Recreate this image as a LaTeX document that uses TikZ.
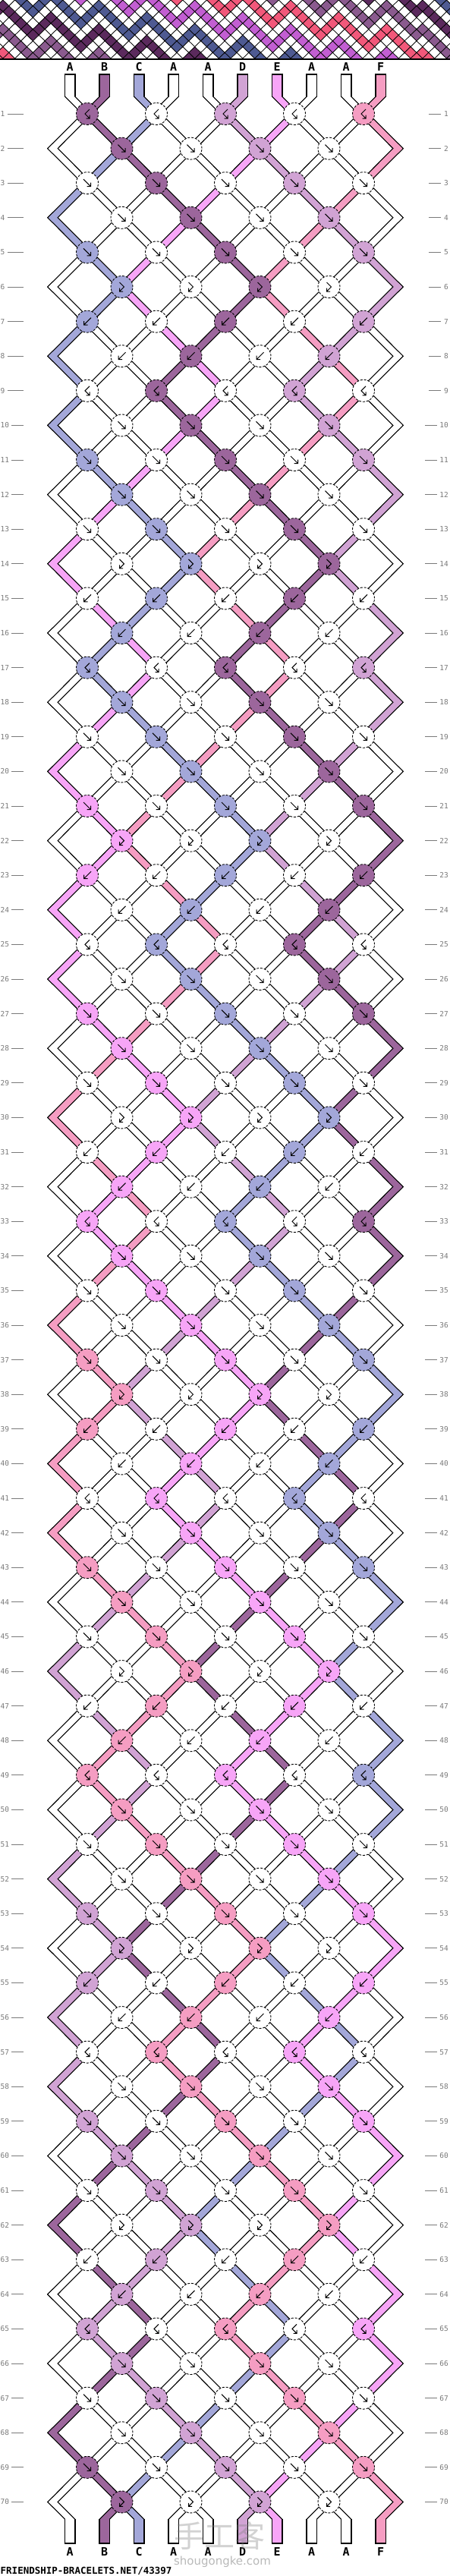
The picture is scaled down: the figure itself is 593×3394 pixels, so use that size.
\documentclass[tikz,border=0pt]{standalone}
\usepackage{fontspec}
\setmainfont{DejaVu Sans}
\newfontfamily\monof{DejaVu Sans Mono}
\newfontfamily\cjkf{Noto Sans CJK SC}
\definecolor{cA}{HTML}{FFFFFF}
\definecolor{cB}{HTML}{9C669C}
\definecolor{cC}{HTML}{A3A7D9}
\definecolor{cD}{HTML}{D1A3D4}
\definecolor{cE}{HTML}{F7A5F7}
\definecolor{cF}{HTML}{F59DC2}
\definecolor{vA}{HTML}{FFFFFF}
\definecolor{vB}{HTML}{5B2A5D}
\definecolor{vC}{HTML}{4E5A92}
\definecolor{vD}{HTML}{8A5A8E}
\definecolor{vE}{HTML}{C25ED2}
\definecolor{vF}{HTML}{F2587A}
\definecolor{lab}{HTML}{7A7A7A}
\tikzset{
 outl/.style={line width=10.5pt, line cap=rect, draw=black},
 fil/.style={line width=8pt, line cap=rect},
 tubeline/.style={line width=1.2pt, draw=black},
 knot/.style={circle, minimum size=29pt, inner sep=0pt, draw=black, line width=0.9pt, dash pattern=on 3pt off 1.8pt},
 sym/.style={line width=1pt, draw=black, line cap=butt},
 rowlab/.style={font=\monof\fontsize{9.5}{10}\selectfont, text=lab, inner sep=0pt},
 dashl/.style={line width=0.9pt, draw=lab},
 strlab/.style={font=\monof\bfseries\fontsize{15}{15}\selectfont, inner sep=0pt},
 pvd/.style={draw=black, line width=0.7pt},
 symF/.pic={\draw[sym] (-5,-5)--(4.5,4.5) (-0.5,4.5)--(4.5,4.5)--(4.5,-0.5);},
 symB/.pic={\draw[sym] (5,-5)--(-4.5,4.5) (0.5,4.5)--(-4.5,4.5)--(-4.5,-0.5);},
 symFB/.pic={\draw[sym] (-3,-6)--(3,0)--(-3,6) (1.5,6)--(-3,6)--(-3,1.5);},
 symBF/.pic={\draw[sym] (3,-6)--(-3,0)--(3,6) (-1.5,6)--(3,6)--(3,1.5);},
}
\def\setst#1#2{\expandafter\xdef\csname st#1\endcsname{#2}}
\begin{document}
\begin{tikzpicture}[x=1pt,y=-1pt]
\useasboundingbox (0,0) rectangle (593,3394);
\fill[white] (0,0) rectangle (593,3394);
% ---------- simulation of the knotting ----------
\foreach \ps/\lt in {1/A,2/B,3/C,4/A,5/A,6/D,7/E,8/A,9/A,10/F}{%
  \setst{\ps}{\lt}\expandafter\xdef\csname sc0-\ps\endcsname{\lt}}
\foreach \rw in {1,...,70}{%
  \pgfmathtruncatemacro\mm{mod(\rw-1,8)}%
  \ifnum\mm=0 \def\kt{3}\else\ifnum\mm<5 \def\kt{0}\else\ifnum\mm=5 \def\kt{2}\else\def\kt{1}\fi\fi\fi
  \expandafter\xdef\csname kt\rw\endcsname{\kt}%
  \ifodd\rw \def\plist{1,3,5,7,9}\else\def\plist{2,4,6,8}\fi
  \foreach \ps in \plist {%
    \pgfmathtruncatemacro\qs{\ps+1}%
    \edef\Lc{\csname st\ps\endcsname}%
    \edef\Rc{\csname st\qs\endcsname}%
    \ifnum\kt=0 \edef\Dc{\Lc}\else\ifnum\kt=2 \edef\Dc{\Lc}\else\edef\Dc{\Rc}\fi\fi
    \expandafter\xdef\csname kc\rw-\ps\endcsname{\Dc}%
    \ifnum\kt<2 \setst{\ps}{\Rc}\setst{\qs}{\Lc}\fi
  }%
  \foreach \ps in {1,...,10}{\expandafter\xdef\csname sc\rw-\ps\endcsname{\csname st\ps\endcsname}}%
}
% ---------- preview strip ----------
\begin{scope}
\clip (0,0) rectangle (593,77);
\foreach \cc in {-1,...,76}{%
  \pgfmathtruncatemacro\rw{mod(\cc-1+140,70)+1}%
  \pgfmathtruncatemacro\rp{\rw-1}%
  \pgfmathsetmacro\cx{7.9*(\cc-1)+3.95}%
  \ifodd\rw \def\plist{1,3,5,7,9}\else\def\plist{0,2,4,6,8,10}\fi
  \foreach \ps in \plist{%
    \ifnum\ps=0 \edef\col{v\csname sc\rp-1\endcsname}\else\ifnum\ps=10 \edef\col{v\csname sc\rp-10\endcsname}\else
      \edef\col{v\csname kc\rw-\ps\endcsname}\fi\fi
    \pgfmathsetmacro\cy{7.7*\ps}%
    \filldraw[pvd, fill=\col] ({\cx-7.9},\cy) -- (\cx,{\cy-7.7}) -- ({\cx+7.9},\cy) -- (\cx,{\cy+7.7}) -- cycle;
  }%
}
\end{scope}
\draw[line width=2pt] (0,78) -- (593,78);
% ---------- coordinates ----------
\foreach \rw in {1,...,70}{%
  \pgfmathsetmacro\yy{150+45.6*(\rw-1)}%
  \foreach \ps in {1,...,10}{%
    \pgfmathsetmacro\xx{92.25+45.5*(\ps-1)+22.75*(1-2*mod(\ps+\rw,2))}%
    \coordinate (P\rw-\ps) at (\xx,\yy);
  }%
}
\foreach \ps in {1,...,10}{%
  \pgfmathsetmacro\xx{92.25+45.5*(\ps-1)}%
  \coordinate (T\ps) at (\xx,127.25);
  \coordinate (U\ps) at (\xx,98);
  \coordinate (Bt\ps) at (\xx,3319.15);
  \coordinate (Be\ps) at (\xx,3351);
}
% ---------- string outlines ----------
\foreach \rw in {1,...,69}{%
  \pgfmathtruncatemacro\rn{\rw+1}%
  \foreach \ps in {1,...,10}{\draw[outl] (P\rw-\ps) -- (P\rn-\ps);}%
}
\foreach \ps in {1,...,10}{\draw[outl] (T\ps) -- (P1-\ps); \draw[outl] (P70-\ps) -- (Bt\ps);}
% ---------- string fills ----------
\foreach \rw in {1,...,69}{%
  \pgfmathtruncatemacro\rn{\rw+1}%
  \foreach \ps in {1,...,10}{%
    \edef\col{c\csname sc\rw-\ps\endcsname}%
    \draw[fil, draw=\col] (P\rw-\ps) -- (P\rn-\ps);}%
}
\foreach \ps in {1,...,10}{%
  \edef\col{c\csname sc0-\ps\endcsname}%
  \draw[fil, draw=\col] (T\ps) -- (P1-\ps);
  \fill[\col] ([xshift=-7.4pt]U\ps) rectangle ([xshift=7.4pt]T\ps);
  \draw[tubeline] ([xshift=-6.8pt]T\ps) -- ([xshift=-6.8pt]U\ps) -- ([xshift=6.8pt]U\ps) -- ([xshift=6.8pt]T\ps);
  \edef\col{c\csname sc70-\ps\endcsname}%
  \draw[fil, draw=\col] (P70-\ps) -- (Bt\ps);
  \fill[\col] ([xshift=-7.4pt]Bt\ps) rectangle ([xshift=7.4pt]Be\ps);
  \draw[tubeline] ([xshift=-6.8pt]Bt\ps) -- ([xshift=-6.8pt]Be\ps) -- ([xshift=6.8pt]Be\ps) -- ([xshift=6.8pt]Bt\ps);
}
% ---------- knots ----------
\foreach \rw in {1,...,70}{%
  \ifodd\rw \def\plist{1,3,5,7,9}\else\def\plist{2,4,6,8}\fi
  \edef\kt{\csname kt\rw\endcsname}%
  \foreach \ps in \plist{%
    \edef\col{c\csname kc\rw-\ps\endcsname}%
    \node[knot, fill=\col] (K\rw-\ps) at (P\rw-\ps) {};
    \ifcase\kt \pic at (K\rw-\ps) {symF};\or \pic at (K\rw-\ps) {symB};\or \pic at (K\rw-\ps) {symFB};\or \pic at (K\rw-\ps) {symBF};\fi
  }%
}
% ---------- row labels ----------
\foreach \rw in {1,...,70}{%
  \pgfmathsetmacro\yy{150+45.6*(\rw-1)}%
  \node[rowlab, anchor=west] (L\rw) at (0.5,\yy) {\rw};
  \node[rowlab, anchor=east] (R\rw) at (591,\yy) {\rw};
  \draw[dashl] ([xshift=3pt]L\rw.east) -- (31,\yy);
  \draw[dashl] ([xshift=-3.5pt]R\rw.west) -- ++(-16,0);
}
% ---------- string letters ----------
\foreach \ps/\lt in {1/A,2/B,3/C,4/A,5/A,6/D,7/E,8/A,9/A,10/F}{%
  \pgfmathsetmacro\xx{92.25+45.5*(\ps-1)}%
  \node[strlab] (tl\ps) at (\xx,88) {\lt};
  \node[strlab] (bl\ps) at (\xx,3362) {\lt};
}
% ---------- footer ----------
\node[anchor=south west, inner sep=0pt, font=\monof\bfseries\fontsize{12.5}{12.5}\selectfont] (site) at (0.5,3393) {FRIENDSHIP-BRACELETS.NET/43397};
\node[font=\cjkf\fontsize{40}{40}\selectfont, text=gray, opacity=0.35, inner sep=0pt] (wm) at (289,3341) {手工客};
\node[font=\fontsize{15}{15}\selectfont, text=gray, opacity=0.55, inner sep=0pt] (wm2) at (293,3375) {shougongke.com};
\end{tikzpicture}
\end{document}
